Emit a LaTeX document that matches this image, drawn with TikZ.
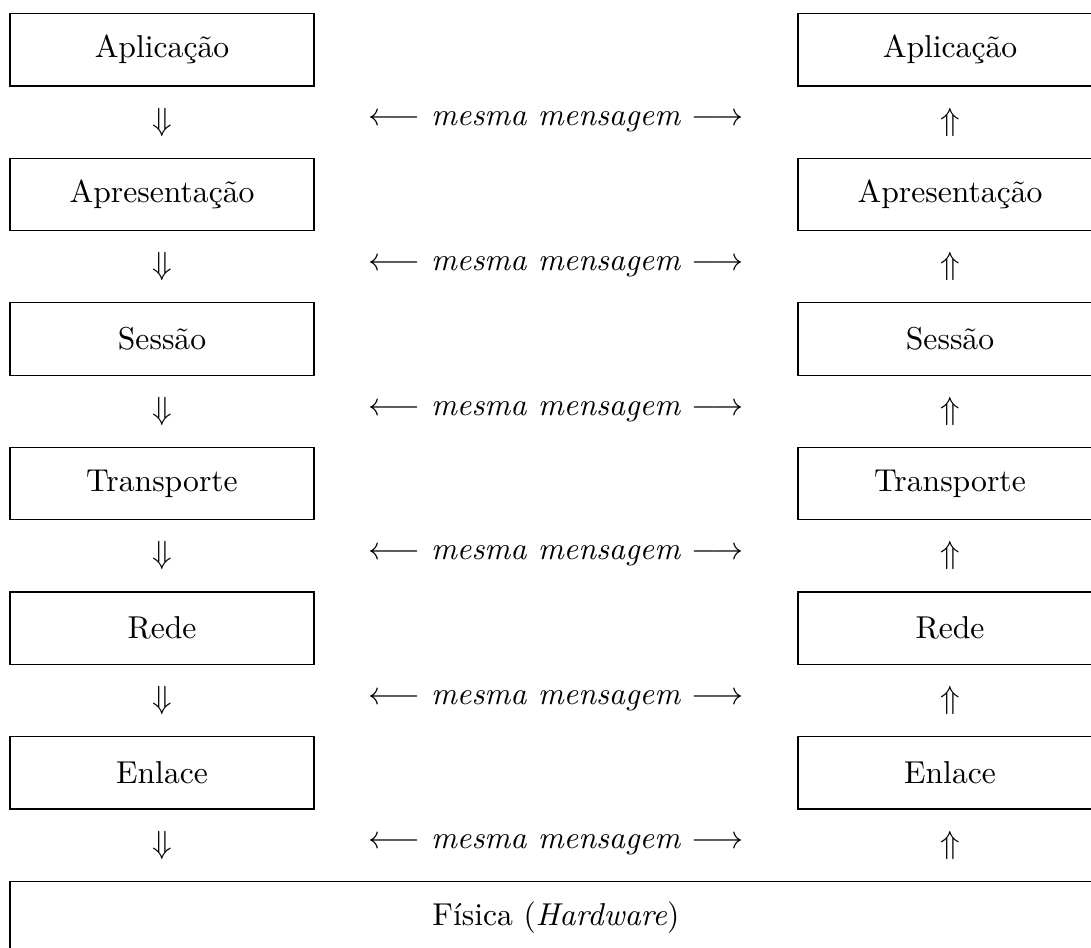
\documentclass[tikz,border=0pt]{standalone}
\begin{document}
\begin{tikzpicture}[x=0.3413pt,y=-0.3413pt,
  font=\fontsize{10.8}{13}\selectfont,
  layer/.style={draw, line width=0.4pt, minimum width=103.76pt, minimum height=24.74pt, inner sep=0pt},
  wide/.style={layer, minimum width=372.7pt},
  glyph/.style={inner sep=0pt}]
\useasboundingbox (0,0) rectangle (1091,947);
% the two stacks of layers, with the flow arrows and the peer message between them
\foreach \name [count=\i from 0] in {Aplicação,Apresentação,Sessão,Transporte,Rede,Enlace}{
  \pgfmathsetmacro\yc{49.75+144.6*\i}
  \pgfmathsetmacro\ya{\yc+72.3}
  \node[layer] (L\i) at (162,\yc) {\name};
  \node[layer] (R\i) at (950,\yc) {\name};
  \node[glyph] (D\i) at (162,\ya) {$\Downarrow$};
  \node[glyph] (U\i) at (950,\ya) {$\Uparrow$};
  \node[glyph] (M\i) at (556,\ya) {$\longleftarrow$ \textit{mesma mensagem} $\longrightarrow$};
}
% shared physical layer
\node[wide] (F) at (556,917.35) {Física (\textit{Hardware})};
\end{tikzpicture}
\end{document}
